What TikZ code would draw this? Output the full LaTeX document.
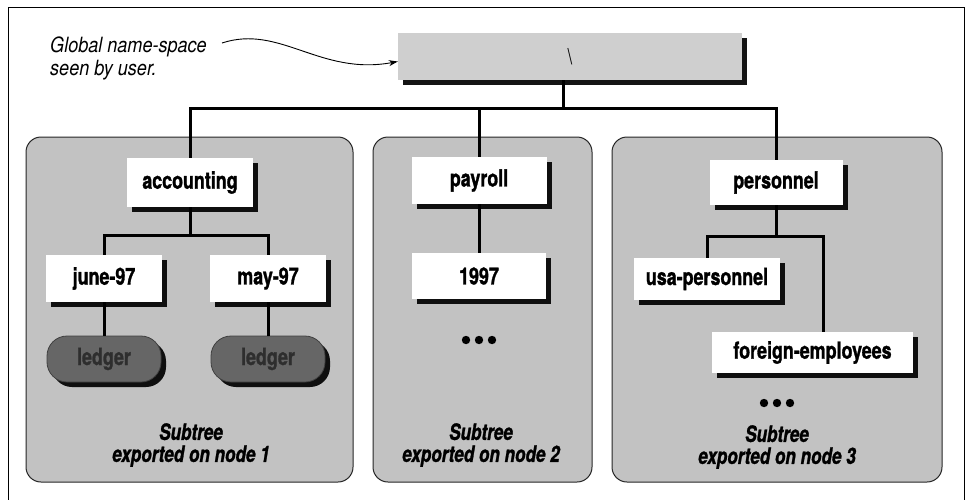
\documentclass[tikz,border=0pt]{standalone}
\usepackage{fontspec}
\setmainfont{TeX Gyre Heros}[FakeStretch=0.76,BoldFeatures={FakeBold=1.2},BoldItalicFeatures={FakeBold=1.2}]
\newfontfamily\capfont{TeX Gyre Heros}[FakeStretch=0.86]
\usetikzlibrary{shadows,arrows.meta}
\definecolor{panelgray}{gray}{0.76}
\definecolor{rootgray}{gray}{0.81}
\definecolor{ledgergray}{gray}{0.40}
\begin{document}
\begin{tikzpicture}[x=1pt,y=-1pt,
  tree/.style={line width=3pt,black,line join=miter},
  panel/.style={draw=black!85,line width=1pt,fill=panelgray,rounded corners=15pt,inner sep=0pt},
  shad/.style={drop shadow={shadow xshift=5pt,shadow yshift=-5pt,opacity=0.92,fill=black}},
  dirbox/.style={shad,fill=white,inner sep=0pt,font=\fontsize{23.5}{23.5}\selectfont\bfseries},
  leaf/.style={shad,fill=ledgergray,draw=black!75,line width=0.8pt,rounded corners=20pt,inner sep=0pt,
    minimum width=114pt,minimum height=46pt,text=black!82,font=\fontsize{23.5}{23.5}\selectfont\bfseries},
  sublabel/.style={align=center,inner sep=0pt,font=\fontsize{22.5}{22}\selectfont\bfseries\itshape},
  caption/.style={align=left,inner sep=0pt,font=\capfont\fontsize{21}{23}\selectfont\itshape},
  arrowline/.style={line width=0.9pt,-{Stealth[length=9pt,width=6pt]}},
  dotmark/.style={inner sep=0pt,minimum size=1pt}
]
\useasboundingbox (0,0) rectangle (969,499);
% outer frame
\draw[line width=1pt] (8,500) -- (8,7) -- (964,7) -- (964,500);

% caption and arrow
\node[caption,anchor=north west] (cap) at (50,37) {Global name-space\\seen by user.};
\coordinate (capstart) at (222,43);

% root
\node[shad,fill=rootgray,inner sep=0pt,minimum width=344pt,minimum height=47pt,
  font=\fontsize{22}{22}\selectfont] (root) at (570,56.5) {\textbackslash};

\draw[arrowline] (capstart) .. controls (280,24) and (320,76) .. ([yshift=-5pt]root.west);

% panels
\node[panel,minimum width=327pt,minimum height=345pt] (p1) at (189.5,309.5) {};
\node[panel,minimum width=219pt,minimum height=345pt] (p2) at (482.5,309.5) {};
\node[panel,minimum width=330pt,minimum height=345pt] (p3) at (777,309.5) {};

% panel 1
\node[dirbox,minimum width=126pt,minimum height=49pt] (acc) at (190,182.5) {accounting};
\node[dirbox,minimum width=116pt,minimum height=47pt] (june) at (104,278.5) {june-97};
\node[dirbox,minimum width=116pt,minimum height=47pt] (may) at (268,278.5) {may-97};
\node[leaf] (led1) at (104,359) {ledger};
\node[leaf] (led2) at (268,359) {ledger};
\node[sublabel] (s1) at (191,445) {Subtree\\exported on node 1};

% panel 2
\node[dirbox,minimum width=135pt,minimum height=47pt] (pay) at (479,180.5) {payroll};
\node[dirbox,minimum width=134pt,minimum height=46pt] (y97) at (479,276) {1997};
\node[dotmark] (d2) at (479,340) {};
\node[sublabel] (s2) at (481,445) {Subtree\\exported on node 2};

% panel 3
\node[dirbox,minimum width=133pt,minimum height=45pt] (pers) at (776,182.5) {personnel};
\node[dirbox,minimum width=146pt,minimum height=42pt] (usa) at (707,279) {usa-personnel};
\node[dirbox,minimum width=201pt,minimum height=41pt] (fe) at (812.5,352.5) {foreign-employees};
\node[dotmark] (d3) at (777,403) {};
\node[sublabel] (s3) at (777,447) {Subtree\\exported on node 3};

% dots
\foreach \d in {d2,d3}{
  \foreach \dx in {-13,0,13}{
    \fill ([xshift=\dx pt]\d) circle (4.2pt);
  }
}

% tree connectors
\coordinate (j0) at (563,108);
\coordinate (j1) at (190,235);
\coordinate (j2) at (776,236);
\coordinate (fetop) at ([xshift=10.5pt]fe.north);
\draw[tree] ([xshift=-7pt]root.south) -- (j0);
\draw[tree] (acc.north) -- (acc.north |- j0) -- (pers.north |- j0) -- (pers.north);
\draw[tree] (pay.north) -- (pay.north |- j0);
\draw[tree] (acc.south) -- (j1);
\draw[tree] (june.north) -- (june.north |- j1) -- (may.north |- j1) -- (may.north);
\draw[tree] (june.south) -- (led1.north);
\draw[tree] (may.south) -- (led2.north);
\draw[tree] (pay.south) -- (y97.north);
\draw[tree] (pers.south) -- (j2);
\draw[tree] (usa.north) -- (usa.north |- j2) -- (fetop |- j2) -- (fetop);
\end{tikzpicture}
\end{document}
